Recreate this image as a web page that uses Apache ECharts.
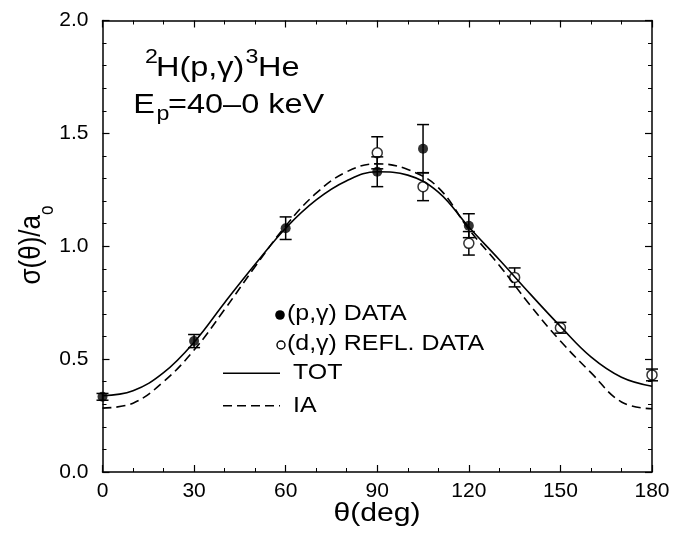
<!DOCTYPE html>
<html>
<head>
<meta charset="utf-8">
<script src="https://cdn.jsdelivr.net/npm/echarts@6/dist/echarts.min.js"></script>
<style>
  html, body { margin: 0; padding: 0; background: #fff; }
  #chart { width: 673px; height: 535px; }
</style>
</head>
<body>
<div id="chart"></div>
<script>
// Angular distribution of 2H(p,gamma)3He, sigma(theta)/a0 versus theta (deg)

// Axis ticks
const xTickValues = [0, 30, 60, 90, 120, 150, 180];
const xTickLabels = ['0', '30', '60', '90', '120', '150', '180'];
const yTickValues = [0, 0.5, 1.0, 1.5, 2.0];
const yTickLabels = ['0.0', '0.5', '1.0', '1.5', '2.0'];

// (p,gamma) data: filled circles
const pgTheta = [0, 30, 60, 90, 105, 120];
const pgValue = [0.333, 0.580, 1.080, 1.330, 1.432, 1.091];
const pgError = [0.015, 0.029, 0.050, 0.066, 0.107, 0.053];

// (d,gamma) reflected data: open circles
const dgTheta = [90, 105, 120, 135, 150, 180];
const dgValue = [1.414, 1.264, 1.013, 0.862, 0.639, 0.430];
const dgError = [0.071, 0.062, 0.052, 0.042, 0.024, 0.026];

// Calculations: TOT (solid) and IA (dashed)
const curveTheta = [0, 10, 20, 30, 40, 50, 60, 70, 80, 90, 100, 110, 120, 130, 140, 150, 160, 170, 180];
const totValue = [0.338, 0.360, 0.440, 0.575, 0.750, 0.920, 1.080, 1.205, 1.290, 1.330, 1.315, 1.240, 1.085, 0.940, 0.790, 0.645, 0.510, 0.420, 0.380];
const iaValue  = [0.283, 0.305, 0.400, 0.540, 0.720, 0.910, 1.090, 1.235, 1.330, 1.365, 1.340, 1.260, 1.075, 0.915, 0.740, 0.580, 0.440, 0.310, 0.280];

const FONT = '"Liberation Sans", Arial, Helvetica, sans-serif';
const INK = '#000';
const WIDE = 1.16;   // horizontal stretch of the lettering

const zip3 = (a, b, c) => a.map((v, i) => [v, b[i], c[i]]);
const zip2 = (a, b) => a.map((v, i) => [v, b[i]]);

function errorBars(gap) {
  return function (params, api) {
    const x = api.value(0), y = api.value(1), e = api.value(2);
    const c = api.coord([x, y]);
    const hi = api.coord([x, y + e]);
    const lo = api.coord([x, y - e]);
    const hw = 6;
    const st = { stroke: INK, lineWidth: 1.5 };
    const kids = [
      { type: 'line', shape: { x1: c[0] - hw, y1: hi[1], x2: c[0] + hw, y2: hi[1] }, style: st },
      { type: 'line', shape: { x1: c[0] - hw, y1: lo[1], x2: c[0] + hw, y2: lo[1] }, style: st }
    ];
    if (hi[1] < c[1] - gap) kids.push({ type: 'line', shape: { x1: c[0], y1: hi[1], x2: c[0], y2: c[1] - gap }, style: st });
    if (lo[1] > c[1] + gap) kids.push({ type: 'line', shape: { x1: c[0], y1: c[1] + gap, x2: c[0], y2: lo[1] }, style: st });
    return { type: 'group', children: kids };
  };
}

const tickFmt = (vals, labels) => (v) => {
  const i = vals.findIndex(t => Math.abs(t - v) < 1e-9);
  return i >= 0 ? labels[i] : '';
};

// plain text piece, stretched horizontally about its anchor
function label(text, x, y, size, align) {
  return {
    type: 'text', x: x, y: y, scaleX: WIDE, z: 10,
    style: { text: text, fill: INK, font: size + 'px ' + FONT, align: align || 'left', verticalAlign: 'middle' }
  };
}

const axisCommon = {
  type: 'value',
  axisLine: { show: true, onZero: false, lineStyle: { color: INK, width: 1.5 } },
  axisTick: { show: true, inside: true, length: 7, lineStyle: { color: INK, width: 1.2 } },
  minorTick: { show: true, length: 4, lineStyle: { color: INK, width: 1 } },
  splitLine: { show: false },
  minorSplitLine: { show: false }
};

const chart = echarts.init(document.getElementById('chart'), null, { renderer: 'canvas' });

chart.setOption({
  animation: false,
  backgroundColor: '#fff',
  grid: { left: 102.5, right: 21, top: 20.5, bottom: 63 },
  xAxis: [
    Object.assign({}, axisCommon, {
      min: 0, max: 180, interval: 30, position: 'bottom',
      minorTick: Object.assign({}, axisCommon.minorTick, { splitNumber: 3 }),
      axisLabel: { show: true, margin: 9, color: INK, fontSize: 21, fontFamily: FONT, formatter: tickFmt(xTickValues, xTickLabels) }
    }),
    Object.assign({}, axisCommon, {
      min: 0, max: 180, interval: 30, position: 'top',
      minorTick: Object.assign({}, axisCommon.minorTick, { splitNumber: 3 }),
      axisLabel: { show: false }
    })
  ],
  yAxis: [
    Object.assign({}, axisCommon, {
      min: 0, max: 2, interval: 0.5, position: 'left',
      minorTick: Object.assign({}, axisCommon.minorTick, { splitNumber: 5 }),
      axisLabel: { show: true, margin: 14, color: INK, fontSize: 21, fontFamily: FONT, formatter: tickFmt(yTickValues, yTickLabels) }
    }),
    Object.assign({}, axisCommon, {
      min: 0, max: 2, interval: 0.5, position: 'right',
      minorTick: Object.assign({}, axisCommon.minorTick, { splitNumber: 5 }),
      axisLabel: { show: false }
    })
  ],
  series: [
    {
      name: 'TOT', type: 'line', data: zip2(curveTheta, totValue), smooth: 0.4,
      symbol: 'none', lineStyle: { color: INK, width: 1.6 }, z: 2
    },
    {
      name: 'IA', type: 'line', data: zip2(curveTheta, iaValue), smooth: 0.4,
      symbol: 'none', lineStyle: { color: INK, width: 1.6, type: [9, 5] }, z: 2
    },
    {
      name: 'pg-err', type: 'custom', data: zip3(pgTheta, pgValue, pgError),
      renderItem: errorBars(0), encode: { x: 0, y: 1 }, z: 3
    },
    {
      name: 'dg-err', type: 'custom', data: zip3(dgTheta, dgValue, dgError),
      renderItem: errorBars(5), encode: { x: 0, y: 1 }, z: 3
    },
    {
      name: '(p,γ) DATA', type: 'scatter', data: zip2(pgTheta, pgValue),
      symbol: 'circle', symbolSize: 10, itemStyle: { color: INK }, z: 4
    },
    {
      name: '(d,γ) REFL. DATA', type: 'scatter', data: zip2(dgTheta, dgValue),
      symbol: 'circle', symbolSize: 10,
      itemStyle: { color: 'rgba(255,255,255,0)', borderColor: INK, borderWidth: 1.5 }, z: 4
    }
  ],
  graphic: [
    // reaction label: 2H(p,γ)3He
    label('2', 145, 57.5, 20),
    label('H(p,γ)', 156, 68.3, 28),
    label('3', 245.5, 57.5, 20),
    label('He', 258, 68.3, 28),
    // beam energy: Ep=40–0 keV
    label('E', 133.3, 105, 28),
    label('p', 156.5, 114, 20),
    label('=40–0 keV', 168, 105, 28),
    // x axis title
    label('θ(deg)', 377, 514, 26, 'center'),
    // y axis title
    {
      type: 'text', x: 37, y: 245, rotation: Math.PI / 2, scaleY: WIDE, z: 10,
      style: {
        text: '{b|σ(θ)/a}{u|o}', fill: INK, align: 'center', verticalAlign: 'middle',
        rich: {
          b: { fontSize: 26, fontFamily: FONT, lineHeight: 36, verticalAlign: 'top' },
          u: { fontSize: 17, fontFamily: FONT, lineHeight: 17, verticalAlign: 'bottom' }
        }
      }
    },
    // key
    { type: 'circle', shape: { cx: 280, cy: 315, r: 4.8 }, style: { fill: INK }, z: 10 },
    label('(p,γ) DATA', 287, 314.5, 21.5),
    { type: 'circle', shape: { cx: 281, cy: 345, r: 4 }, style: { fill: 'none', stroke: INK, lineWidth: 1.4 }, z: 10 },
    label('(d,γ) REFL. DATA', 287, 344, 21.5),
    { type: 'line', shape: { x1: 223, y1: 373.3, x2: 280, y2: 373.3 }, style: { stroke: INK, lineWidth: 1.6 }, z: 10 },
    label('TOT', 293, 373, 21.5),
    { type: 'line', shape: { x1: 223, y1: 405.7, x2: 280, y2: 405.7 }, style: { stroke: INK, lineWidth: 1.6, lineDash: [9, 5] }, z: 10 },
    label('IA', 293, 405.7, 21.5)
  ]
});
</script>
</body>
</html>
